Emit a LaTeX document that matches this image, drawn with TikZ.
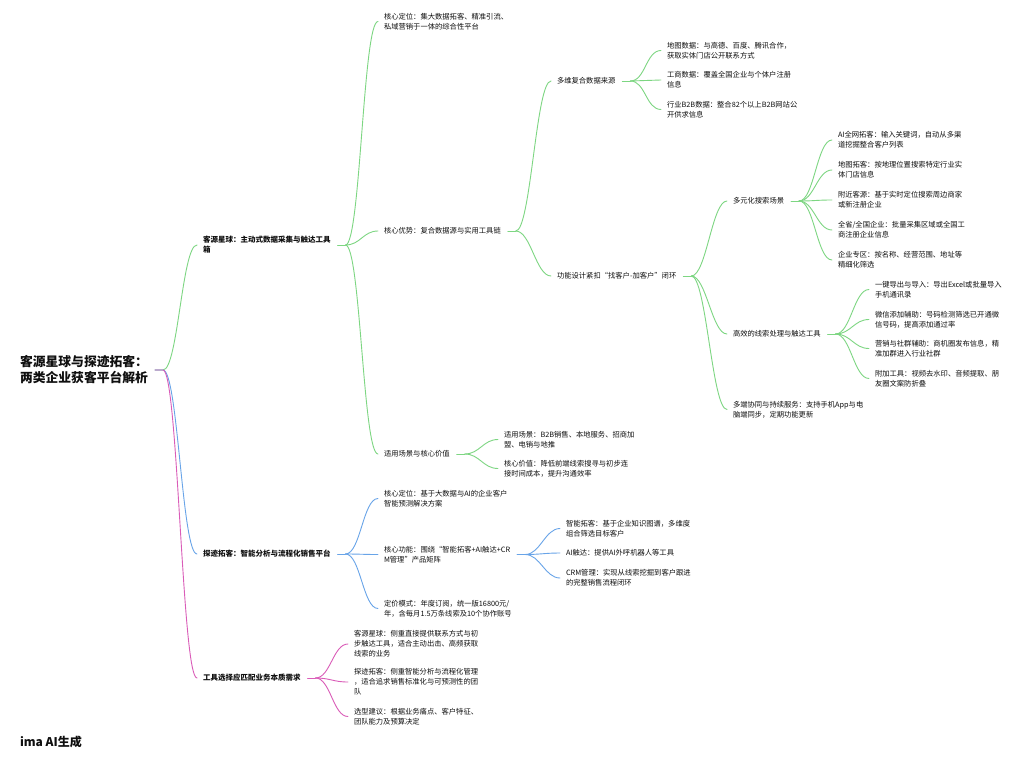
\documentclass[tikz,border=0pt]{standalone}
\usepackage{fontspec}
\setmainfont{Noto Sans CJK SC}
\usetikzlibrary{calc}
\definecolor{gline}{RGB}{125,214,130}
\definecolor{bline}{RGB}{104,164,232}
\definecolor{pline}{RGB}{218,92,184}
\definecolor{txt}{RGB}{15,15,15}
\tikzset{
  every node/.style={inner sep=0pt, outer sep=0pt, anchor=west, align=left, text=txt},
  leaf/.style={font=\fontsize{7.3}{10}\selectfont},
  lvone/.style={font=\fontsize{7.5}{10}\selectfont\bfseries},
  rootnode/.style={font=\fontsize{12.8}{16}\selectfont\bfseries},
  mark text/.style={font=\fontsize{12}{14}\selectfont\bfseries},
  mm/.style={line width=0.9pt, line cap=round},
}
\newcommand\mmBranch[3]{%
  \coordinate (#1-j) at ($(#1.east)+(15,0)$);
  \draw[mm,#2] ($(#1.east)+(7,0)$) -- (#1-j);
  \foreach \c in {#3} {\draw[mm,#2] (#1-j) .. controls +(15,0) and +(-15,0) .. ($(\c.west)+(-6,0)$);}
}
\begin{document}
\begin{tikzpicture}[x=1pt,y=-1pt]
\useasboundingbox[fill=white] (0,0) rectangle (1024,762);
% root
\node[rootnode] (root) at (20,370) {客源星球与探迹拓客：\\两类企业获客平台解析};
% level 1
\node[lvone] (la) at (203,245) {客源星球：主动式数据采集与触达工具\\箱};
\node[lvone] (lb) at (203,554) {探迹拓客：智能分析与流程化销售平台};
\node[lvone] (lc) at (203,678) {工具选择应匹配业务本质需求};
% branch A
\node[leaf] (a1) at (384,21.5) {核心定位：集大数据拓客、精准引流、\\私域营销于一体的综合性平台};
\node[leaf] (a2) at (384,231) {核心优势：复合数据源与实用工具链};
\node[leaf] (a3) at (384,454) {适用场景与核心价值};
\node[leaf] (a2a) at (557,81) {多维复合数据来源};
\node[leaf] (a2b) at (557,276) {功能设计紧扣“找客户-加客户”闭环};
\node[leaf] (d1) at (667,50.5) {地图数据：与高德、百度、腾讯合作，\\获取实体门店公开联系方式};
\node[leaf] (d2) at (667,80) {工商数据：覆盖全国企业与个体户注册\\信息};
\node[leaf] (d3) at (667,109.5) {行业B2B数据：整合82个以上B2B网站公\\开供求信息};
\node[leaf] (f1) at (733,201) {多元化搜索场景};
\node[leaf] (f2) at (733,334) {高效的线索处理与触达工具};
\node[leaf] (f3) at (733,409.5) {多端协同与持续服务：支持手机App与电\\脑端同步，定期功能更新};
\node[leaf] (s1) at (838,140) {AI全网拓客：输入关键词，自动从多渠\\道挖掘整合客户列表};
\node[leaf] (s2) at (838,170) {地图拓客：按地理位置搜索特定行业实\\体门店信息};
\node[leaf] (s3) at (838,200) {附近客源：基于实时定位搜索周边商家\\或新注册企业};
\node[leaf] (s4) at (838,230) {全省/全国企业：批量采集区域或全国工\\商注册企业信息};
\node[leaf] (s5) at (838,260) {企业专区：按名称、经营范围、地址等\\精细化筛选};
\node[leaf] (t1) at (875,289.5) {一键导出与导入：导出Excel或批量导入\\手机通讯录};
\node[leaf] (t2) at (875,319.5) {微信添加辅助：号码检测筛选已开通微\\信号码，提高添加通过率};
\node[leaf] (t3) at (875,348.5) {营销与社群辅助：商机圈发布信息，精\\准加群进入行业社群};
\node[leaf] (t4) at (875,378.5) {附加工具：视频去水印、音频提取、朋\\友圈文案防折叠};
\node[leaf] (v1) at (504,439.5) {适用场景：B2B销售、本地服务、招商加\\盟、电销与地推};
\node[leaf] (v2) at (504,468.5) {核心价值：降低前端线索搜寻与初步连\\接时间成本，提升沟通效率};
% branch B
\node[leaf] (b1) at (384,498.5) {核心定位：基于大数据与AI的企业客户\\智能预测解决方案};
\node[leaf] (b2) at (384,554.5) {核心功能：围绕“智能拓客+AI触达+CR\\M管理”产品矩阵};
\node[leaf] (b3) at (384,608.5) {定价模式：年度订阅，统一版16800元/\\年，含每月1.5万条线索及10个协作账号};
\node[leaf] (g1) at (566,528.5) {智能拓客：基于企业知识图谱，多维度\\组合筛选目标客户};
\node[leaf] (g2) at (566,553) {AI触达：提供AI外呼机器人等工具};
\node[leaf] (g3) at (566,578) {CRM管理：实现从线索挖掘到客户跟进\\的完整销售流程闭环};
% branch C
\node[leaf] (c1) at (354,644) {客源星球：侧重直接提供联系方式与初\\步触达工具，适合主动出击、高频获取\\线索的业务};
\node[leaf] (c2) at (354,682) {探迹拓客：侧重智能分析与流程化管理\\，适合追求销售标准化与可预测性的团\\队};
\node[leaf] (c3) at (354,716.5) {选型建议：根据业务痛点、客户特征、\\团队能力及预算决定};
% watermark
\node[mark text] (wm) at (20,742) {ima AI生成};
% connectors
\mmBranch{la}{gline}{a1,a2,a3}
\mmBranch{a2}{gline}{a2a,a2b}
\mmBranch{a2a}{gline}{d1,d2,d3}
\mmBranch{a2b}{gline}{f1,f2,f3}
\mmBranch{f1}{gline}{s1,s2,s3,s4,s5}
\mmBranch{f2}{gline}{t1,t2,t3,t4}
\mmBranch{a3}{gline}{v1,v2}
\mmBranch{lb}{bline}{b1,b2,b3}
\mmBranch{b2}{bline}{g1,g2,g3}
\mmBranch{lc}{pline}{c1,c2,c3}
% root connectors
\coordinate (root-j) at ($(root.east)+(15,0)$);
\draw[mm,gline] ($(root.east)+(7,0)$) -- (root-j) .. controls +(15,0) and +(-15,0) .. ($(la.west)+(-6,0)$);
\draw[mm,bline] ($(root.east)+(7,0)$) -- (root-j) .. controls +(15,0) and +(-15,0) .. ($(lb.west)+(-6,0)$);
\draw[mm,pline] ($(root.east)+(7,0)$) -- (root-j) .. controls +(15,0) and +(-15,0) .. ($(lc.west)+(-6,0)$);
\end{tikzpicture}
\end{document}
